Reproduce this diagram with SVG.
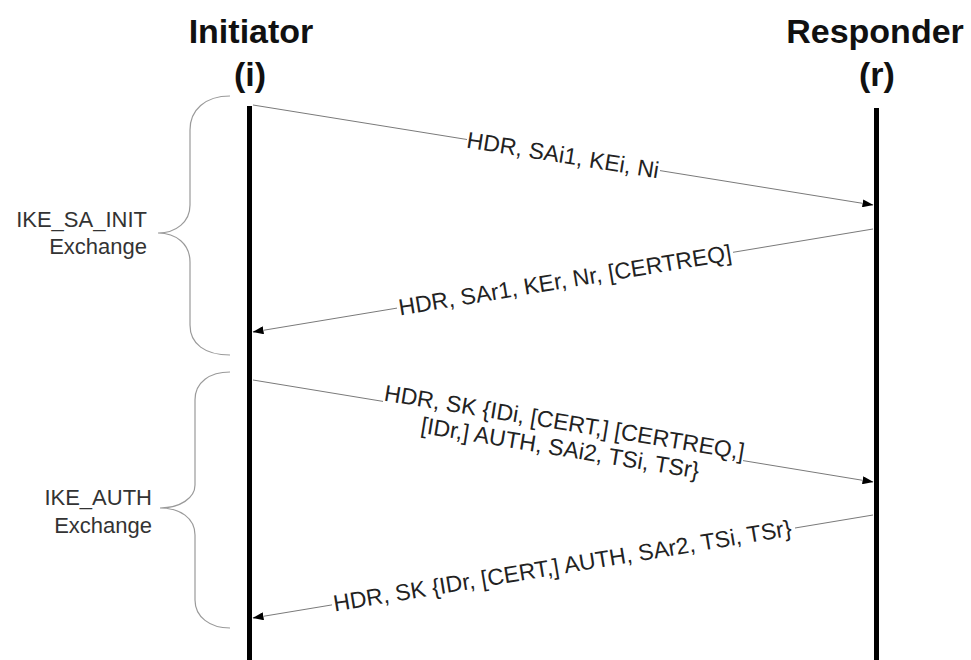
<svg xmlns="http://www.w3.org/2000/svg" width="971" height="660" viewBox="0 0 971 660">
<style>
.hdr{font-family:"Liberation Sans",Arial,sans-serif;font-weight:bold;font-size:34px;fill:#111;text-anchor:middle}
.lbl{font-family:"Liberation Sans",Arial,sans-serif;font-size:23px;fill:#222;text-anchor:middle}
.brl{font-family:"Liberation Sans",Arial,sans-serif;font-size:22px;fill:#333;text-anchor:end}
.life{stroke:#000;stroke-width:5;fill:none}
.brace{stroke:#9a9a9a;stroke-width:1.2;fill:none}
.msg{stroke:#7a7a7a;stroke-width:1;fill:none;marker-end:url(#arr)}
</style>
<defs>
<marker id="arr" markerWidth="11" markerHeight="8" refX="10.5" refY="4" orient="auto" markerUnits="userSpaceOnUse">
<path d="M0,0 L11,4 L0,8 z" fill="#000"/>
</marker>
</defs>
<rect width="971" height="660" fill="#fff"/>

<g id="initiator">
<text class="hdr" x="251" y="43">Initiator</text>
<text class="hdr" x="250" y="86">(i)</text>
<line class="life" x1="249.5" y1="106" x2="249.5" y2="660"/>
</g>

<g id="responder">
<text class="hdr" x="875" y="43">Responder</text>
<text class="hdr" x="877" y="86">(r)</text>
<line class="life" x1="876.5" y1="108" x2="876.5" y2="660"/>
</g>

<g id="ike_sa_init">
<path class="brace" d="M230,96 C205,96 190,110 190,130 L190,205 C190,222 176,233 158,233 C176,233 190,244 190,262 L190,325 C190,344 205,355 230,355"/>
<text class="brl" x="147" y="227">IKE_SA_INIT</text>
<text class="brl" x="147" y="254">Exchange</text>
</g>

<g id="ike_auth">
<path class="brace" d="M230,372 C210,372 195,382 195,400 L195,485 C195,498 180,508 160,508 C180,508 195,518 195,535 L195,600 C195,617 210,628 230,628"/>
<text class="brl" x="152" y="505">IKE_AUTH</text>
<text class="brl" x="152" y="533">Exchange</text>
</g>

<g id="connectors">
<path class="msg" d="M253,105 L467,139.5 M660,170.6 L873,205"/>
<path class="msg" d="M873,229 L733,252.3 M397,308.1 L253,332"/>
<path class="msg" d="M253,380 L383,401.4 M743,460.6 L873,482"/>
<path class="msg" d="M873,515 L795,528 M332,604.9 L253,618"/>
</g>

<g id="label1" transform="translate(563,155) rotate(9.16)">
<text class="lbl" x="0" y="8">HDR, SAi1, KEi, Ni</text>
</g>
<g id="label2" transform="translate(565,280) rotate(-9.43)">
<text class="lbl" x="0" y="8">HDR, SAr1, KEr, Nr, [CERTREQ]</text>
</g>
<g id="label3" transform="translate(563,431) rotate(9.34)">
<text class="lbl" x="0" y="-1">HDR, SK {IDi, [CERT,] [CERTREQ,]</text>
<text class="lbl" x="0" y="25">[IDr,] AUTH, SAi2, TSi, TSr}</text>
</g>
<g id="label4" transform="translate(562.5,566.6) rotate(-9.43)">
<text class="lbl" x="0" y="7">HDR, SK {IDr, [CERT,] AUTH, SAr2, TSi, TSr}</text>
</g>
</svg>
